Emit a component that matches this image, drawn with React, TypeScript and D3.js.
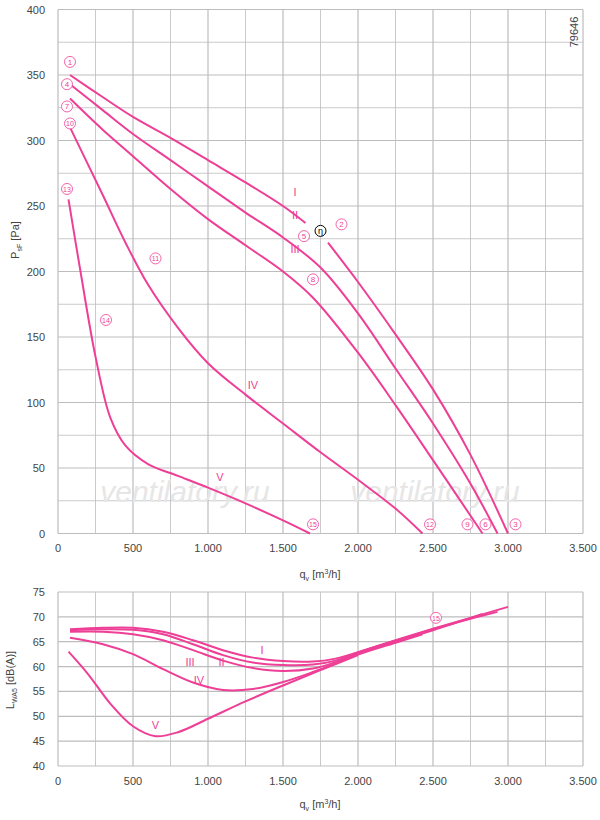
import React from "react";
import * as d3 from "d3";

type P = [number, number];
const pI: P[] = [[80,350],[300,333],[500,318],[750,302],[1000,285],[1250,268],[1500,250],[1650,237]];
const pI2: P[] = [[1800,222],[2000,192],[2250,152],[2500,110],[2750,60],[3000,0]];
const pII: P[] = [[80,343],[300,323],[500,305],[750,285],[1000,265],[1250,245],[1500,226],[1750,203],[2000,168],[2250,126],[2500,84],[2750,38],[2930,0]];
const pIII: P[] = [[80,332],[300,308],[500,288],[750,263],[1000,240],[1250,220],[1500,200],[1700,180],[2000,138],[2250,98],[2500,56],[2830,0]];
const pIV: P[] = [[80,310],[300,258],[450,222],[600,190],[800,157],[1000,130],[1250,106],[1500,84],[1750,62],[2000,41],[2250,19],[2430,0]];
const pV: P[] = [[70,255],[150,200],[250,135],[350,88],[450,67],[600,53],[800,44],[1000,35],[1250,23],[1500,10],[1680,0]];
const topCurves = [pI, pI2, pII, pIII, pIV, pV];

const sI: P[] = [[80,67.5],[300,67.8],[500,67.8],[700,67],[900,65.3],[1100,63.3],[1300,61.8],[1500,61.1],[1700,61],[1850,61.6],[2000,62.9],[2250,65.3],[2500,67.6],[2750,69.8],[3000,72]];
const sII: P[] = [[80,67.3],[300,67.5],[500,67.4],[700,66.5],[900,64.5],[1100,62.3],[1300,60.8],[1500,60.3],[1700,60.4],[1850,61.2],[2000,62.8],[2250,65.2],[2500,67.5],[2750,69.6],[2930,71]];
const sIII: P[] = [[80,67],[300,67],[500,66.5],[700,65.3],[900,63.3],[1100,61.2],[1300,59.7],[1500,59.1],[1700,59.6],[1850,60.9],[2000,62.6],[2250,65],[2500,67.3],[2830,70.6]];
const sIV: P[] = [[80,65.8],[300,64.5],[500,62.5],[700,59.5],[900,56.8],[1100,55.3],[1300,55.5],[1500,56.9],[1700,58.9],[1850,60.6],[2000,62.4],[2250,64.8],[2430,66.5]];
const sV: P[] = [[70,63],[200,58.5],[350,52.5],[500,48],[650,46],[800,46.8],[1000,49.5],[1250,53],[1500,56.2],[1750,59.3],[2000,62.3]];
const botCurves = [sI, sII, sIII, sIV, sV];

const xTicks = [0,500,1000,1500,2000,2500,3000,3500];
const yTopTicks = [0,50,100,150,200,250,300,350,400];
const yBotTicks = [40,45,50,55,60,65,70,75];

const topMarks: [number, number, number][] = [[1,80,360],[4,60,343],[7,60,326],[10,80,313],[13,60,263],[11,650,210],[14,320,163],[2,1890,236],[5,1640,227],[8,1700,194],[15,1700,7],[12,2480,7],[9,2730,7],[6,2850,7],[3,3050,7]];
const topRoman: [string, number, number][] = [["I",1580,258],["II",1580,240],["III",1580,214],["IV",1300,110],["V",1080,40]];
const botRoman: [string, number, number][] = [["I",1360,62.5],["II",1090,60.2],["III",880,60.2],["IV",940,56.5],["V",650,47.5]];

const pink = "#ee3f96";
const fmt = (v: number) => v === 0 ? "0" : d3.format(",")(v).replace(",", ".");
const font = "'Liberation Sans', Arial, sans-serif";

const Qlabel = ({ y }: { y: number }) => (
  <text x={320} y={y} fontSize={11} fill="#444" textAnchor="middle">q<tspan fontSize={7} dy={3}>v</tspan><tspan dy={-3}> [m</tspan><tspan fontSize={7} dy={-4}>3</tspan><tspan dy={4}>/h]</tspan></text>
);

export default function App() {
  const x = d3.scaleLinear().domain([0, 3500]).range([58, 583]);
  const yT = d3.scaleLinear().domain([0, 400]).range([533.5, 9.5]);
  const yB = d3.scaleLinear().domain([40, 75]).range([766, 592]);
  const lineT = d3.line<P>().x(d => x(d[0])).y(d => yT(d[1])).curve(d3.curveCatmullRom);
  const lineB = d3.line<P>().x(d => x(d[0])).y(d => yB(d[1])).curve(d3.curveCatmullRom);
  const vgrid = d3.range(0, 3501, 250);
  const hgT = d3.range(0, 401, 25);
  const hgB = d3.range(40, 76, 5);
  return (
    <svg width={600} height={820} style={{ position: "absolute", left: 0, top: 0, fontFamily: font }}>
      <rect width={600} height={820} fill="#fff" />
      {vgrid.map(v => <line key={"tv"+v} x1={x(v)} x2={x(v)} y1={yT(400)} y2={yT(0)} stroke="#bdbdbd" strokeWidth={v % 500 === 0 ? 1.2 : 0.8} />)}
      {hgT.map(v => <line key={"th"+v} x1={x(0)} x2={x(3500)} y1={yT(v)} y2={yT(v)} stroke="#bdbdbd" strokeWidth={v % 50 === 0 ? 1.2 : 0.8} />)}
      {xTicks.map(v => <text key={"tx"+v} x={x(v)} y={552} fontSize={11} fill="#444" textAnchor="middle">{fmt(v)}</text>)}
      {yTopTicks.map(v => <text key={"ty"+v} x={45} y={yT(v) + 4} fontSize={11} fill="#444" textAnchor="end">{v}</text>)}
      <Qlabel y={578} />
      <text transform="translate(19,240) rotate(-90)" fontSize={11} fill="#444" textAnchor="middle">P<tspan fontSize={7} dy={3}>sF</tspan><tspan dy={-3}> [Pa]</tspan></text>
      <text transform="translate(578,32) rotate(-90)" fontSize={11} fill="#444" textAnchor="middle">79646</text>
      <text x={185} y={502} fontSize={30} fontStyle="italic" fill="#e6e6e6" textAnchor="middle">ventilatory.ru</text>
      <text x={435} y={502} fontSize={30} fontStyle="italic" fill="#e6e6e6" textAnchor="middle">ventilatory.ru</text>
      {topCurves.map((c, i) => <path key={"tc"+i} d={lineT(c) || ""} fill="none" stroke={pink} strokeWidth={2} />)}
      {topMarks.map(([n, a, b], i) => (
        <g key={"tm"+i}>
          <circle cx={x(a)} cy={yT(b)} r={5.5} fill="#fff" stroke={pink} strokeWidth={0.8} />
          <text x={x(a)} y={yT(b) + 3} fontSize={n > 9 ? 7 : 8} fill={pink} textAnchor="middle">{n}</text>
        </g>
      ))}
      <circle cx={x(1750)} cy={yT(231)} r={5.5} fill="#fff" stroke="#000" strokeWidth={1} />
      <text x={x(1750)} y={yT(231) + 3} fontSize={9} textAnchor="middle" fill="#000">η</text>
      {topRoman.map(([t, a, b], i) => <text key={"tr"+i} x={x(a)} y={yT(b)} fontSize={11} fill={pink} textAnchor="middle">{t}</text>)}
      {vgrid.map(v => <line key={"bv"+v} x1={x(v)} x2={x(v)} y1={yB(75)} y2={yB(40)} stroke="#bdbdbd" strokeWidth={v % 500 === 0 ? 1.2 : 0.8} />)}
      {hgB.map(v => <line key={"bh"+v} x1={x(0)} x2={x(3500)} y1={yB(v)} y2={yB(v)} stroke="#bdbdbd" strokeWidth={1.2} />)}
      {xTicks.map(v => <text key={"bx"+v} x={x(v)} y={785} fontSize={11} fill="#444" textAnchor="middle">{fmt(v)}</text>)}
      {yBotTicks.map(v => <text key={"by"+v} x={45} y={yB(v) + 4} fontSize={11} fill="#444" textAnchor="end">{v}</text>)}
      <Qlabel y={808} />
      <text transform="translate(14,680) rotate(-90)" fontSize={11} fill="#444" textAnchor="middle">L<tspan fontSize={7} dy={3}>WA5</tspan><tspan dy={-3}> [dB(A)]</tspan></text>
      {botCurves.map((c, i) => <path key={"bc"+i} d={lineB(c) || ""} fill="none" stroke={pink} strokeWidth={2} />)}
      {botRoman.map(([t, a, b], i) => <text key={"br"+i} x={x(a)} y={yB(b)} fontSize={11} fill={pink} textAnchor="middle">{t}</text>)}
      <circle cx={x(2520)} cy={yB(69.8)} r={5.5} fill="#fff" stroke={pink} strokeWidth={0.8} />
      <text x={x(2520)} y={yB(69.8) + 3} fontSize={7} fill={pink} textAnchor="middle">15</text>
    </svg>
  );
}
